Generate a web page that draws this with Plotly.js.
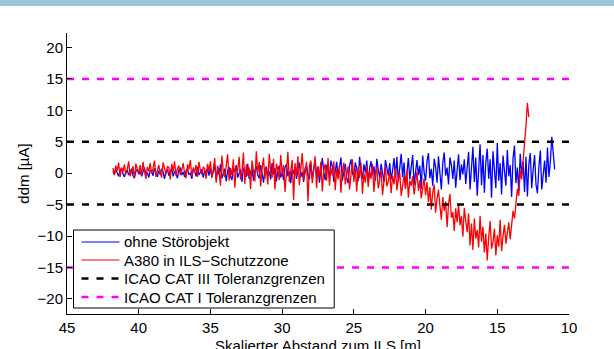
<!DOCTYPE html>
<html>
<head>
<meta charset="utf-8">
<script src="https://cdn.plot.ly/plotly-3.0.1.min.js"></script>
<style>
  html, body { margin: 0; padding: 0; background: #fff; overflow: hidden; }
  #band { position: absolute; left: 0; top: 0; width: 614px; height: 6px; background: #9bc7d7; z-index: 10; }
  #chart { position: absolute; left: 0; top: 0; width: 614px; height: 349px; }
</style>
</head>
<body>
<div id="chart"></div>
<div id="band"></div>
<script>
// Sample positions (scaled distance to ILS, m)
const xGrid = [
  41.8,41.7,41.6,41.5,41.4,41.3,41.2,41.1,41.0,
  40.9,40.8,40.7,40.6,40.5,40.4,40.3,40.2,40.1,40.0,
  39.9,39.8,39.7,39.6,39.5,39.4,39.3,39.2,39.1,39.0,
  38.9,38.8,38.7,38.6,38.5,38.4,38.3,38.2,38.1,38.0,
  37.9,37.8,37.7,37.6,37.5,37.4,37.3,37.2,37.1,37.0,
  36.9,36.8,36.7,36.6,36.5,36.4,36.3,36.2,36.1,36.0,
  35.9,35.8,35.7,35.6,35.5,35.4,35.3,35.2,35.1,35.0,
  34.9,34.8,34.7,34.6,34.5,34.4,34.3,34.2,34.1,34.0,
  33.9,33.8,33.7,33.6,33.5,33.4,33.3,33.2,33.1,33.0,
  32.9,32.8,32.7,32.6,32.5,32.4,32.3,32.2,32.1,32.0,
  31.9,31.8,31.7,31.6,31.5,31.4,31.3,31.2,31.1,31.0,
  30.9,30.8,30.7,30.6,30.5,30.4,30.3,30.2,30.1,30.0,
  29.9,29.8,29.7,29.6,29.5,29.4,29.3,29.2,29.1,29.0,
  28.9,28.8,28.7,28.6,28.5,28.4,28.3,28.2,28.1,28.0,
  27.9,27.8,27.7,27.6,27.5,27.4,27.3,27.2,27.1,27.0,
  26.9,26.8,26.7,26.6,26.5,26.4,26.3,26.2,26.1,26.0,
  25.9,25.8,25.7,25.6,25.5,25.4,25.3,25.2,25.1,25.0,
  24.9,24.8,24.7,24.6,24.5,24.4,24.3,24.2,24.1,24.0,
  23.9,23.8,23.7,23.6,23.5,23.4,23.3,23.2,23.1,23.0,
  22.9,22.8,22.7,22.6,22.5,22.4,22.3,22.2,22.1,22.0,
  21.9,21.8,21.7,21.6,21.5,21.4,21.3,21.2,21.1,21.0,
  20.9,20.8,20.7,20.6,20.5,20.4,20.3,20.2,20.1,20.0,
  19.9,19.8,19.7,19.6,19.5,19.4,19.3,19.2,19.1,19.0,
  18.9,18.8,18.7,18.6,18.5,18.4,18.3,18.2,18.1,18.0,
  17.9,17.8,17.7,17.6,17.5,17.4,17.3,17.2,17.1,17.0,
  16.9,16.8,16.7,16.6,16.5,16.4,16.3,16.2,16.1,16.0,
  15.9,15.8,15.7,15.6,15.5,15.4,15.3,15.2,15.1,15.0,
  14.9,14.8,14.7,14.6,14.5,14.4,14.3,14.2,14.1,14.0,
  13.9,13.8,13.7,13.6,13.5,13.4,13.3,13.2,13.1,13.0,
  12.9,12.8,12.7,12.6,12.5,12.4,12.3,12.2,12.1,12.0,
  11.9,11.8,11.7,11.6,11.5,11.4,11.3,11.2,11.1,11.0
];

// ddm [µA] without obstacle (blue), x = 41.8 ... 11.0
const ddmOhne = [
  0.3,-0.2,0.6,0.1,-0.5,0.4,0.8,-0.1,-0.6,0.2,
  0.5,-0.3,0.1,0.7,-0.4,-0.8,0.3,0.6,-0.2,0.4,
  -0.5,0.2,0.9,-0.3,0.1,-0.7,0.5,0.3,-0.4,0.8,
  0.0,-0.6,0.4,-0.2,0.7,0.2,-0.9,0.3,0.6,-0.4,
  0.1,0.8,-0.5,0.3,-0.1,-0.8,0.5,0.9,-0.3,0.2,
  -0.6,0.4,0.7,-0.2,0.0,-0.9,0.6,0.3,-0.5,1.0,
  -0.3,0.2,0.6,-0.7,0.4,-0.1,0.8,-0.4,
  0.9,-0.6,0.3,1.2,-1.0,0.5,-0.2,1.4,-0.8,0.1,
  0.7,-1.3,0.4,1.0,-0.5,-1.1,0.8,0.2,1.3,-0.7,
  -0.1,0.6,-1.4,0.9,0.3,-0.6,1.5,-0.9,0.2,0.7,
  -1.2,0.4,1.1,-0.3,-0.8,1.3,0.0,-1.5,0.6,1.0,
  -0.4,0.3,-1.0,1.6,-0.2,0.8,-1.3,0.5,1.2,-0.7,
  0.1,-1.1,0.9,1.4,-0.5,0.3,-1.6,0.7,-0.1,1.1,
  -0.9,0.5,1.7,-0.6,0.2,-1.4,0.8,1.2,-0.3,-1.0,
  1.6,-0.9,0.5,2.1,-0.4,1.0,-1.5,0.8,2.4,0.2,
  -1.1,1.3,0.6,-0.7,2.0,1.1,-1.4,0.3,1.8,-0.5,
  0.9,2.5,-1.2,0.4,1.5,-0.8,-1.6,1.2,2.2,0.0,
  -0.6,1.7,0.7,-1.3,2.6,0.5,-0.9,1.4,0.1,2.0,
  -1.5,0.8,1.9,-0.3,1.1,-1.2,2.3,0.6,-0.7,1.5,
  0.2,-1.4,2.1,0.9,-0.4,1.6,-1.0,0.4,2.4,-0.6,
  2.6,-1.4,0.9,3.1,-0.6,1.7,-2.2,0.3,2.4,-1.0,
  1.5,2.9,-1.9,0.6,2.1,-0.3,1.2,-2.5,2.8,0.1,
  -1.2,1.9,3.2,-0.8,0.7,-2.0,2.3,1.0,-1.5,2.7,
  0.4,-2.6,1.6,3.3,-0.4,0.9,-1.8,2.5,1.3,-0.9,
  2.0,-2.3,0.5,3.0,-1.1,1.4,-0.2,2.2,-1.7,1.1,
  3.4,-2.6,1.1,4.2,-1.4,2.5,-3.6,0.7,4.6,-1.9,
  2.9,-3.1,1.8,3.9,-0.9,2.2,-3.9,3.5,0.4,-2.4,
  4.8,-1.2,1.6,-3.4,2.8,0.2,-2.0,3.7,-0.5,1.3,
  -3.8,2.4,4.4,-1.6,0.9,-2.8,3.1,-0.3,1.9,-3.0,
  2.6,-3.7,1.4,3.2,-2.4,0.5,2.9,-1.8,-3.2,1.0,
  3.6,-2.6,0.3,2.0,-1.5,4.1,-0.6,1.8,5.8,3.0,
  0.6
];

// ddm [µA] with A380 in ILS protection zone (red), x = 41.8 ... 12.8
const ddmA380 = [
  0.8,-0.3,1.2,0.4,1.7,-0.6,0.9,0.2,1.4,-0.2,
  0.6,1.9,-0.5,0.3,1.1,-0.8,1.5,0.7,0.0,1.3,
  -0.4,1.8,0.5,-0.9,1.0,0.3,1.6,-0.1,0.8,2.0,
  -0.6,0.4,1.3,0.1,-0.7,1.7,0.6,-0.2,1.1,0.9,
  -1.0,1.5,0.3,1.9,-0.4,0.7,1.2,-0.3,0.5,1.6,
  0.0,-0.8,1.4,0.6,2.1,-0.5,0.9,0.2,1.3,-0.6,
  1.8,0.4,-0.2,1.0,0.7,-0.9,1.5,0.3,
  1.9,-0.8,0.6,2.4,-1.5,1.2,0.3,-2.0,2.8,0.1,
  -0.6,1.6,3.0,-1.2,0.8,-0.3,2.2,-2.3,1.0,0.4,
  2.6,-1.0,0.2,3.3,-1.7,1.4,-0.4,0.9,-2.5,2.0,
  0.5,-1.3,3.5,0.0,1.8,-2.1,0.7,2.5,-0.9,1.1,
  -1.8,3.1,0.3,-0.7,2.3,-2.6,1.5,0.6,-1.1,2.9,
  -0.2,1.3,-3.0,0.8,3.4,-1.4,0.4,2.1,-4.3,1.6,
  -0.5,2.7,-1.9,0.9,3.2,-1.0,0.1,1.8,-4.5,1.2,
  2.0,-1.6,0.5,2.7,-2.4,1.1,-0.6,1.8,-2.9,0.4,
  1.5,-1.2,2.4,-2.0,0.8,-0.3,1.9,-2.7,0.6,-1.0,
  1.3,-3.1,0.2,1.7,-1.8,-0.5,1.1,-2.6,0.3,2.2,
  -1.4,0.7,-2.9,1.0,-0.8,1.6,-3.3,0.0,-1.5,1.2,
  -2.2,0.4,-0.9,1.5,-3.0,-0.2,0.9,-2.4,-1.1,0.6,
  -3.5,-0.6,1.0,-2.1,-1.3,0.3,-3.2,-0.4,-1.8,0.8,
  -2.7,-1.0,0.1,-3.6,-1.5,-0.3,-2.5,0.5,-3.9,-1.2,
  -2.0,-0.5,-3.4,-1.7,0.2,-2.8,-1.1,-4.0,-2.3,-0.8,
  -3.5,-1.4,-4.6,-2.2,-5.8,-3.0,-1.8,-6.3,-4.0,-2.6,
  -5.2,-7.4,-3.8,-6.0,-4.5,-8.6,-5.0,-3.3,-7.1,-6.2,
  -9.2,-5.6,-7.8,-4.9,-8.3,-6.8,-10.1,-5.5,-7.6,-9.4,
  -6.4,-11.5,-8.0,-12.2,-7.2,-10.4,-9.0,-11.8,-6.8,-10.9,
  -8.5,-12.6,-9.6,-13.9,-10.2,-7.6,-12.0,-11.0,-8.8,-13.1,
  -9.9,-11.7,-7.4,-12.4,-10.0,-8.2,-11.2,-9.0,-7.8,-10.5,
  -8.6,-6.0,-7.2,-4.3,-2.5,-3.6,0.4,-1.0,2.5,4.8,
  7.5,11.2,8.9
];

// Tolerance limits (± µA) and the span they are drawn over
const catIIILimit = 5;
const catILimit = 15;
const limitSpan = [45, 10];

// Axis ticks and labels
const xTicks = [45, 40, 35, 30, 25, 20, 15, 10];
const yTicks = [-20, -15, -10, -5, 0, 5, 10, 15, 20];
const xTitle = 'Skalierter Abstand zum ILS [m]';
const yTitle = 'ddm [µA]';

// Legend labels
const seriesNames = [
  'ohne Störobjekt',
  'A380 in ILS\u2212Schutzzone',
  'ICAO CAT III Toleranzgrenzen',
  'ICAO CAT I Toleranzgrenzen'
];
const seriesColors = ['#0000ff', '#ff0000', '#000000', '#ff00ff'];

const FONT = 'Liberation Sans, Arial, Helvetica, sans-serif';

function limitTrace(lim, name, color) {
  return {
    x: [limitSpan[0], limitSpan[1], null, limitSpan[0], limitSpan[1]],
    y: [lim, lim, null, -lim, -lim],
    mode: 'lines', name: name, showlegend: false, hoverinfo: 'skip',
    line: { color: color, width: 2.5, dash: '7px,8px' }
  };
}

const traces = [
  { x: xGrid.slice(0, ddmOhne.length), y: ddmOhne, mode: 'lines', name: seriesNames[0], showlegend: false,
    line: { color: seriesColors[0], width: 1.3 } },
  { x: xGrid.slice(0, ddmA380.length), y: ddmA380, mode: 'lines', name: seriesNames[1], showlegend: false,
    line: { color: seriesColors[1], width: 1.3 } },
  limitTrace(catIIILimit, seriesNames[2], seriesColors[2]),
  limitTrace(catILimit, seriesNames[3], seriesColors[3])
];

// Plot area in pixels (used to place the legend box in paper units)
const L = 66.5, R = 569, T = 33, B = 314;
const px = v => (v - L) / (R - L);
const py = v => (B - v) / (B - T);

const legendRows = [242, 260, 278.5, 297];
const shapes = [
  { type: 'rect', xref: 'paper', yref: 'paper', x0: px(73), x1: px(334), y0: py(308), y1: py(230),
    line: { color: '#000', width: 1 }, fillcolor: '#fff', layer: 'above' }
];
const annotations = [];
legendRows.forEach((r, i) => {
  const isDash = i >= 2;
  shapes.push({ type: 'line', xref: 'paper', yref: 'paper', x0: px(81), x1: px(119), y0: py(r), y1: py(r),
    line: { color: seriesColors[i], width: isDash ? 2.5 : 1, dash: isDash ? '7px,8px' : 'solid' }, layer: 'above' });
  annotations.push({ xref: 'paper', yref: 'paper', x: px(122), y: py(r), xanchor: 'left', yanchor: 'middle',
    text: seriesNames[i], showarrow: false, font: { family: FONT, size: 15, color: '#000' } });
});
// x-axis title, sitting low as in the source figure (partly cut by the frame there too)
annotations.push({ xref: 'paper', yref: 'paper', x: 0.5, y: py(345), xanchor: 'center', yanchor: 'middle',
  text: xTitle, showarrow: false, font: { family: FONT, size: 15, color: '#000' } });

const axisCommon = {
  showline: true, linecolor: '#000', linewidth: 1, mirror: false,
  ticks: 'inside', ticklen: 5, tickcolor: '#000', tickwidth: 1,
  showgrid: false, zeroline: false,
  tickfont: { family: FONT, size: 15, color: '#000' },
  tickmode: 'array'
};

const layout = {
  width: 614, height: 349,
  margin: { l: L, r: 614 - R, t: T, b: 349 - B, pad: 0 },
  paper_bgcolor: '#fff', plot_bgcolor: '#fff',
  showlegend: false,
  font: { family: FONT, size: 15, color: '#000' },
  xaxis: Object.assign({}, axisCommon, {
    range: [45, 10], tickvals: xTicks, ticktext: xTicks.map(String),
    automargin: false
  }),
  yaxis: Object.assign({}, axisCommon, {
    range: [-22.4, 22.3], tickvals: yTicks, ticktext: yTicks.map(v => v < 0 ? '\u2212' + Math.abs(v) : String(v)),
    title: { text: yTitle, font: { family: FONT, size: 15, color: '#000' }, standoff: 4 },
    automargin: false
  }),
  shapes: shapes,
  annotations: annotations
};

Plotly.newPlot('chart', traces, layout, { displayModeBar: false, staticPlot: true });
</script>
</body>
</html>
